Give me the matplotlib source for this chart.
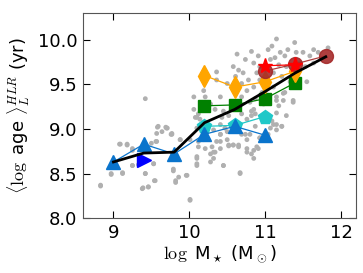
import numpy as np
import matplotlib
matplotlib.use('Agg')
import matplotlib.pyplot as plt

plt.rcParams['mathtext.fontset'] = 'cm'
plt.rcParams['mathtext.rm'] = 'serif'

# gray background galaxies (log M, <log age>)
gal_x = [8.83, 8.97, 9.08, 9.18, 9.12, 9.25, 9.25, 9.39, 9.46, 9.42, 9.53, 9.55, 9.50, 9.57,
         9.57, 9.58, 9.70, 9.77, 9.78, 9.79, 9.82, 9.86, 9.96, 10.01, 9.88, 10.10, 10.10, 10.12,
         10.19, 10.28, 10.30, 10.32, 10.34, 10.41, 10.41, 10.45, 10.50, 10.52, 10.58, 10.65, 10.67,
         10.69, 10.76, 10.76, 10.82, 10.85, 10.91, 10.93, 11.04, 11.15, 11.22, 11.11, 10.10, 10.32,
         10.41, 10.50, 9.42, 9.59, 9.69, 9.64, 9.76, 9.09, 9.18, 9.25, 9.56, 8.97, 9.12, 9.42, 9.54,
         9.46, 9.38, 8.83, 9.53, 9.25, 9.33,
         9.71, 10.10, 10.14, 10.19, 10.21, 10.36, 10.36, 10.45, 10.50, 10.58, 10.61, 10.63, 10.65,
         10.69, 10.69, 10.71, 10.74, 10.76, 10.78, 10.82, 10.85, 10.85, 10.87, 10.89, 10.91, 10.93,
         10.93, 10.96, 10.98, 11.00, 11.04, 11.07, 11.09, 11.11, 11.11, 11.13, 11.15, 11.15, 11.18,
         11.20, 11.22, 11.24, 11.26, 11.28, 11.30, 11.33, 11.37, 11.39, 11.41, 11.46, 11.50, 11.53,
         11.55, 11.59, 11.64, 11.70, 11.83, 11.64,
         10.06, 10.06, 10.08, 10.12, 9.77, 9.88, 10.01, 10.12, 10.21, 10.32, 10.28, 10.36, 10.41,
         10.41, 10.47, 10.43, 10.52, 10.52, 10.58, 10.65, 10.69, 10.76, 10.74, 10.80, 10.76, 10.85,
         10.82, 10.87, 10.28, 10.34, 10.41, 10.67, 10.45, 9.79, 9.82, 9.97, 10.01, 10.10, 10.10,
         10.80, 10.85, 10.82, 11.15, 11.18, 11.24, 11.28, 11.37, 11.26, 11.15, 11.15, 11.22, 11.07,
         10.93, 10.89, 11.09, 10.87]
gal_y = [8.37, 8.49, 8.83, 8.82, 8.51, 8.76, 8.59, 8.34, 8.35, 8.50, 8.61, 8.42, 8.84, 8.86,
         8.95, 9.02, 9.01, 8.94, 8.72, 8.53, 8.40, 8.46, 8.48, 8.20, 8.88, 8.59, 8.67, 8.80,
         8.88, 8.72, 8.80, 8.67, 8.74, 8.86, 8.78, 8.59, 8.88, 8.81, 8.82, 8.80, 8.50,
         8.94, 8.88, 8.78, 8.72, 8.67, 8.78, 8.90, 8.94, 8.99, 9.03, 9.05, 9.01, 8.99,
         8.94, 8.97, 9.34, 9.03, 9.02, 8.97, 8.94, 8.83, 8.83, 8.78, 8.86, 8.50, 8.50, 8.50, 8.42,
         8.35, 8.33, 8.36, 8.61, 8.59, 8.60,
         9.01, 9.13, 9.11, 9.43, 9.36, 9.64, 9.55, 9.20, 9.51, 9.70, 9.59, 9.84, 9.66,
         9.51, 9.36, 9.63, 9.78, 9.43, 9.55, 9.87, 9.74, 9.47, 9.34, 9.63, 9.82, 9.70,
         9.55, 9.41, 9.28, 9.17, 9.89, 9.78, 9.93, 9.63, 9.47, 9.80, 10.01, 9.32, 9.72,
         9.86, 9.59, 9.40, 9.82, 9.70, 9.89, 9.53, 9.32, 9.97, 9.86, 9.74, 9.86, 9.70,
         9.53, 9.82, 9.74, 9.86, 9.91, 9.89,
         9.36, 9.22, 9.13, 9.17, 8.95, 8.88, 8.88, 8.86, 8.78, 8.74, 8.63, 8.86, 8.94,
         9.05, 9.01, 9.13, 9.15, 8.82, 8.82, 8.82, 9.17, 9.11, 8.94, 8.94, 8.74, 8.76,
         9.20, 9.17, 9.28, 9.22, 9.36, 8.51, 8.59, 8.55, 8.42, 8.48, 8.21, 8.69, 8.61,
         9.30, 9.22, 9.15, 9.36, 9.26, 9.32, 9.15, 9.30, 9.41, 9.18, 9.05, 9.03, 9.01,
         8.90, 8.80, 9.09, 9.03]

# median relation
med_x = [9.0, 9.4, 9.8, 10.2, 10.6, 11.0, 11.4, 11.8]
med_y = [8.63, 8.73, 8.74, 9.07, 9.22, 9.42, 9.63, 9.81]

# morphological type curves
e_x = [11.0, 11.4, 11.8]
e_y = [9.65, 9.73, 9.82]
star_x = [11.0, 11.4]
star_y = [9.71, 9.72]
s0_x = [10.2, 10.6, 11.0, 11.4]
s0_y = [9.60, 9.47, 9.53, 9.65]
sa_x = [10.2, 10.6, 11.0, 11.4]
sa_y = [9.26, 9.27, 9.34, 9.52]
sb_x = [10.2, 10.6, 11.0]
sb_y = [9.03, 9.04, 9.14]
sbc_x = [9.0, 9.4, 9.8, 10.2, 10.6, 11.0]
sbc_y = [8.63, 8.83, 8.72, 8.94, 9.03, 8.93]
sd_x = [9.4]
sd_y = [8.65]

fig = plt.figure(figsize=(3.63, 2.73), dpi=100)
ax = fig.add_axes([0.229, 0.201, 0.752, 0.751])

ax.scatter(gal_x, gal_y, s=12, color='#b0b0b0', edgecolors='none', zorder=1)

ax.plot(sb_x, sb_y, '-p', color='#20c8c8', lw=0.9, ms=10, mec='#20c8c8', zorder=2)
ax.plot(sbc_x, sbc_y, '-^', color='#0a74cc', lw=0.9, ms=10, mec='#0a74cc', zorder=3)
ax.plot(sd_x, sd_y, '>', color='#0000ff', ms=10, mec='#0000ff', zorder=3)
ax.plot(sa_x, sa_y, '-s', color='#008000', lw=0.9, ms=9, mec='#008000', zorder=3)
ax.plot(s0_x, s0_y, '-d', color='orange', lw=0.9, ms=11, mec='orange', zorder=3)
ax.plot(e_x, e_y, '-o', color='#a52a2a', lw=0.9, ms=10, mec='#a52a2a', alpha=0.9, zorder=3)
ax.plot(star_x, star_y, '-*', color='red', lw=0.9, ms=11, mec='red', zorder=4)
ax.plot(med_x, med_y, '-', color='black', lw=2, zorder=5)

ax.set_xlim(8.6, 12.2)
ax.set_ylim(8.0, 10.3)
ax.set_xticks([9, 10, 11, 12])
ax.set_yticks([8.0, 8.5, 9.0, 9.5, 10.0])
ax.set_yticklabels(['8.0', '8.5', '9.0', '9.5', '10.0'])
ax.tick_params(direction='in', top=True, right=True, labelsize=13, length=5, pad=4)
for s in ax.spines.values():
    s.set_color('#555555')

ax.set_xlabel(r'$\log$ M$_\star$ (M$_\odot$)', fontsize=13, labelpad=2)
ax.set_ylabel(r'$\langle \log$ age $\rangle_L^{HLR}$ (yr)', fontsize=13, labelpad=4)

fig.savefig('out.png', dpi=100)
